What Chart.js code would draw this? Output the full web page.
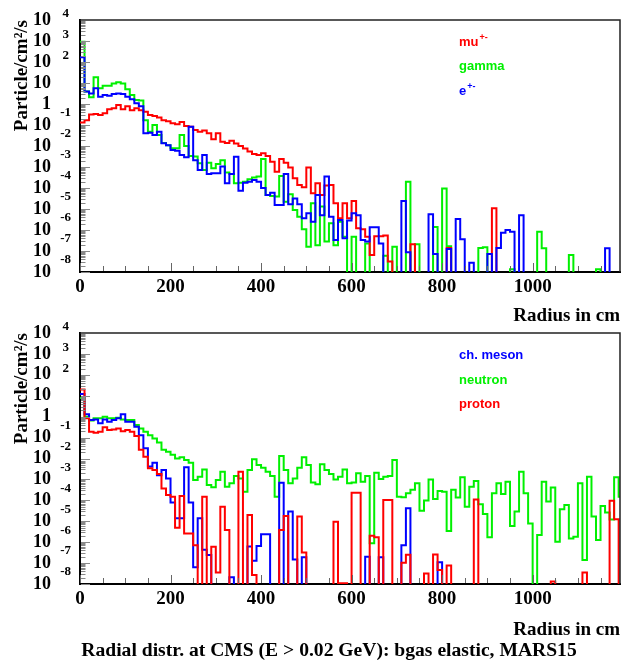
<!DOCTYPE html>
<html>
<head>
<meta charset="utf-8">
<title>Radial distr. at CMS</title>
<script src="https://cdn.jsdelivr.net/npm/chart.js@4.4.1/dist/chart.umd.min.js"></script>
<style>
  html, body { margin:0; padding:0; background:#fff; }
  #wrap { position:relative; width:621px; height:662px; overflow:hidden; background:#fff; }
  #wrap canvas { position:absolute; left:0; }
  #c1 { top:0; }
  #c2 { top:322px; }
  #caption { position:absolute; left:0; width:658px; top:640px; line-height:20px; text-align:center;
    font-family:"Liberation Serif","Times New Roman",serif; font-weight:bold; font-size:19.6px; color:#000; white-space:nowrap; }
</style>
</head>
<body>
<div id="wrap">
  <canvas id="c1" width="621" height="322"></canvas>
  <canvas id="c2" width="621" height="340"></canvas>
  <div id="caption">Radial distr. at CMS (E &gt; 0.02 GeV): bgas elastic, MARS15</div>
</div>
<script>
// ---------- data ----------
const BIN_WIDTH = 10;            // cm per bin
const N_BINS = 120;
const binEdges = Array.from({length: N_BINS + 1}, (_, i) => i * BIN_WIDTH);
const X_MAX = 1193;
const xTickValues = [0, 200, 400, 600, 800, 1000];
const yDecades = [1e-8, 1e-7, 1e-6, 1e-5, 1e-4, 1e-3, 1e-2, 1e-1, 1, 1e1, 1e2, 1e3, 1e4];
const Y_MIN = 1e-8, Y_MAX = 1e4, Y_FLOOR = 1e-9;

// top panel
const muVals = [
  1.3e-1, 1.7e-1, 3.2e-1, 3.3e-1, 3.0e-1, 3.6e-1, 5.6e-1, 6.2e-1, 8.9e-1, 5.6e-1,
  7.9e-1, 5.1e-1, 6.2e-1, 5.1e-1, 4.3e-1, 3.0e-1, 2.7e-1, 2.3e-1, 1.7e-1, 1.5e-1,
  1.2e-1, 1.1e-1, 1.4e-1, 8.9e-2, 8.3e-2, 5.8e-2, 4.8e-2, 5.4e-2, 4.0e-2, 2.1e-2,
  4.0e-2, 1.6e-2, 1.4e-2, 1.8e-2, 1.3e-2, 1.0e-2, 7.6e-3, 5.4e-3, 4.2e-3, 3.7e-3,
  4.5e-3, 3.3e-3, 1.8e-3, 6.0e-4, 2.4e-3, 1.6e-3, 9.5e-4, 2.9e-4, 1.4e-4, 1.1e-4,
  9.5e-4, 5.6e-5, 1.7e-4, 4.7e-5, 1.3e-4, 1.4e-4, 1.9e-5, 3.6e-6, 1.9e-5, 3.6e-6,
  2.4e-5, 1.2e-6, 1.1e-6, 4.8e-7, 6.5e-8, 5.1e-7, 5.1e-7, 5.4e-7, 3.2e-8, 0,
  0, 0, 0, 2.1e-7, 0, 0, 0, 0, 0, 0,
  0, 1.4e-7, 0, 0, 0, 0, 0, 0, 0, 0,
  0, 1.1e-5, 0, 0, 0, 0, 0, 0, 0, 0,
  0, 0, 0, 0, 0, 0, 0, 0, 0, 0,
  0, 0, 0, 0, 0, 0, 0, 0, 0, 0
];
const gammaVals = [
  9.3e2, 3.9, 2.1, 1.9e1, 5.6, 7.4, 7.4, 9.5, 1.1e1, 9.5,
  5.0, 2.7, 1.55, 1.45, 1.7e-1, 4.8e-2, 1.0e-1, 3.3e-2, 1.4e-2, 1.1e-2,
  7.8e-3, 7.8e-3, 3.3e-2, 1.0e-2, 3.3e-3, 3.2e-3, 1.5e-3, 7.2e-4, 1.6e-3, 8.7e-4,
  1.4e-3, 2.1e-3, 5.4e-4, 4.7e-4, 1.7e-4, 1.8e-4, 2.0e-4, 2.6e-4, 3.2e-4, 3.5e-4,
  2.4e-3, 4.7e-5, 4.2e-5, 3.9e-5, 3.7e-4, 2.2e-5, 5.1e-5, 8.9e-6, 4.3e-6, 1.1e-6,
  1.6e-7, 1.9e-5, 1.9e-7, 1.3e-5, 2.8e-7, 2.1e-6, 1.9e-7, 2.5e-6, 4.8e-7, 0,
  4.8e-7, 0, 0, 2.3e-7, 0, 0, 0, 6.0e-8, 0, 1.6e-7,
  0, 0, 2.0e-4, 0, 2.1e-7, 0, 0, 0, 1.4e-6, 0,
  9.5e-5, 1.7e-7, 0, 0, 0, 0, 0, 0, 1.4e-7, 1.5e-7,
  0, 0, 0, 0, 0, 1.35e-8, 0, 0, 0, 0,
  0, 8.3e-7, 1.35e-7, 0, 0, 0, 0, 0, 6.5e-8, 0,
  0, 0, 0, 0, 1.35e-8, 0, 0, 0, 0, 0
];
const eVals = [
  1.7e2, 3.9, 3.2, 5.6, 2.2, 2.7, 2.5, 3.0, 3.2, 3.0,
  2.2, 1.7, 1.1, 7.9e-1, 4.0e-2, 4.3e-2, 3.3e-2, 4.8e-2, 1.35e-2, 1.1e-2,
  6.5e-3, 6.0e-3, 3.7e-3, 2.9e-3, 8.3e-2, 2.1e-3, 7.2e-4, 3.7e-3, 4.7e-4, 5.0e-4,
  5.0e-4, 1.05e-3, 1.7e-4, 4.7e-4, 3.1e-3, 7.4e-5, 1.8e-4, 2.0e-4, 2.4e-4, 2.0e-4,
  1.0e-4, 4.7e-5, 6.0e-5, 1.55e-5, 1.55e-5, 4.7e-4, 1.7e-5, 3.2e-5, 1.7e-5, 3.6e-6,
  6.3e-6, 2.5e-6, 4.7e-5, 5.1e-6, 3.5e-4, 4.3e-6, 3.3e-7, 3.0e-6, 4.0e-7, 2.8e-6,
  6.3e-6, 5.0e-6, 3.3e-7, 2.8e-7, 1.35e-6, 1.35e-6, 2.3e-7, 0, 0, 0,
  0, 2.4e-5, 8.7e-8, 0, 0, 0, 0, 5.6e-6, 7.2e-8, 0,
  0, 1.26e-7, 0, 3.3e-6, 3.6e-7, 0, 2.75e-8, 0, 0, 0,
  7.2e-8, 0, 1.4e-7, 7.4e-7, 1.0e-6, 8.3e-7, 0, 5.0e-6, 0, 0,
  0, 0, 0, 0, 0, 0, 0, 0, 0, 0,
  0, 0, 0, 0, 0, 0, 1.35e-7, 0, 0, 0
];

// bottom panel
const mesonVals = [
  1.2e1, 1.3, 6.9e-1, 7.4e-1, 4.8e-1, 7.4e-1, 5.75e-1, 6.9e-1, 8.3e-1, 1.3,
  5.75e-1, 5.75e-1, 3.3e-1, 1.3e-1, 3.1e-2, 4.1e-3, 6.3e-3, 1.6e-3, 2.8e-3, 1.1e-3,
  7.8e-5, 1.4e-5, 1.4e-5, 3.8e-3, 7.8e-5, 6.3e-8, 1.4e-5, 4.3e-7, 2.45e-7, 0,
  0, 0, 0, 2.1e-8, 0, 0, 0, 6.2e-7, 1.3e-7, 6.6e-7,
  2.4e-6, 2.4e-6, 0, 0, 6.9e-4, 0, 2.9e-5, 1.5e-7, 0, 1.9e-7,
  0, 0, 0, 0, 0, 0, 0, 0, 0, 0,
  0, 0, 0, 2.0e-7, 0, 0, 1.9e-7, 0, 0, 0,
  0, 7.2e-7, 4.2e-5, 0, 0, 0, 0, 0, 0, 1.1e-7,
  0, 0, 0, 0, 0, 0, 0, 0, 0, 0,
  0, 0, 0, 0, 0, 0, 0, 0, 0, 0,
  0, 0, 0, 0, 0, 0, 0, 0, 0, 0,
  0, 0, 0, 0, 0, 0, 0, 0, 0, 0
];
const neutronVals = [
  7.9, 1.0, 6.5e-1, 8.3e-1, 8.3e-1, 1.0, 8.3e-1, 8.3e-1, 8.9e-1, 7.4e-1,
  6.9e-1, 6.9e-1, 4.0e-1, 2.75e-1, 1.9e-1, 1.3e-1, 9.1e-2, 5.8e-2, 2.6e-2, 2.1e-2,
  1.5e-2, 1.0e-2, 1.15e-2, 8.5e-3, 6.3e-3, 9.3e-4, 1.35e-3, 3.0e-3, 5.4e-4, 4.2e-4,
  9.3e-4, 2.3e-3, 4.5e-4, 6.5e-4, 1.45e-3, 1.1e-3, 2.6e-4, 2.8e-3, 9.1e-3, 4.9e-3,
  3.6e-3, 2.3e-3, 1.45e-3, 1.5e-4, 1.3e-2, 2.8e-3, 6.5e-4, 1.1e-3, 3.6e-3, 1.15e-2,
  4.9e-3, 7.1e-4, 5.9e-4, 5.25e-3, 2.8e-3, 1.8e-3, 1.0e-3, 1.35e-3, 3.0e-3, 6.5e-4,
  7.1e-4, 1.95e-3, 7.8e-4, 1.45e-3, 8.9e-7, 2.1e-3, 1.05e-3, 1.35e-3, 1.45e-3, 8.5e-3,
  1.5e-4, 1.4e-4, 2.2e-4, 3.2e-4, 6.5e-4, 3.2e-5, 9.8e-5, 1.0e-3, 1.15e-4, 2.8e-4,
  2.6e-4, 3.4e-6, 3.2e-4, 1.35e-4, 1.26e-3, 5.0e-5, 4.5e-4, 8.5e-4, 6.5e-5, 2.2e-5,
  1.7e-6, 2.2e-4, 6.5e-4, 2.0e-4, 7.8e-4, 5.9e-6, 2.9e-5, 2.3e-3, 2.2e-4, 7.9e-6,
  0, 2.2e-6, 7.8e-4, 8.7e-5, 4.1e-4, 1.05e-6, 3.7e-5, 6.0e-5, 1.5e-6, 1.8e-6,
  6.5e-4, 1.4e-7, 1.35e-3, 1.7e-5, 1.26e-6, 5.4e-5, 2.6e-5, 1.2e-5, 1.26e-3, 1.5e-4
];
const protonVals = [
  2.0e1, 8.3e-1, 1.9e-1, 1.7e-1, 1.9e-1, 3.1e-1, 2.3e-1, 2.45e-1, 2.75e-1, 2.0e-1,
  2.3e-1, 1.9e-1, 1.2e-1, 2.6e-2, 1.2e-2, 3.4e-3, 2.8e-3, 1.8e-3, 3.7e-4, 1.8e-4,
  1.5e-4, 4.9e-6, 1.6e-4, 2.6e-6, 2.6e-6, 7.2e-7, 0, 1.5e-4, 0, 6.0e-7,
  3.5e-8, 5.0e-5, 3.8e-6, 0, 0, 2.3e-3, 0, 2.0e-5, 2.7e-8, 0,
  0, 0, 0, 0, 3.8e-6, 1.8e-5, 0, 0, 1.7e-5, 3.2e-7,
  0, 0, 0, 0, 0, 0, 9.5e-6, 1.1e-8, 1.1e-8, 0,
  2.3e-4, 2.3e-4, 0, 0, 2.0e-6, 1.7e-6, 0, 1.05e-4, 1.05e-4, 0,
  0, 1.05e-7, 2.5e-7, 0, 0, 0, 3.2e-8, 0, 2.6e-7, 4.7e-8,
  0, 7.6e-8, 0, 0, 0, 0, 0, 1.1e-4, 0, 0,
  0, 0, 0, 0, 0, 0, 0, 0, 0, 0,
  0, 0, 0, 0, 1.3e-8, 0, 0, 0, 0, 0,
  0, 3.5e-8, 0, 0, 0, 0, 0, 9.5e-5, 1.26e-5, 0
];

// ---------- styling ----------
const SERIF = '"Liberation Serif", "Times New Roman", serif';
const SANS = '"Liberation Sans", Arial, Helvetica, sans-serif';
const RED = '#ff0000', GREEN = '#00f000', BLUE = '#0000ff';
const LEG_X = 459;

function stepData(vals) {
  const pts = vals.map((v, i) => ({x: binEdges[i], y: v > 0 ? v : Y_FLOOR}));
  pts.push({x: binEdges[vals.length], y: pts[pts.length - 1].y});
  return pts;
}

const decor = {
  id: 'decor',
  afterDraw(chart, args, opts) {
    const {ctx, chartArea: a, scales: {x, y}} = chart;
    ctx.save();
    // frame (top & right)
    ctx.strokeStyle = '#222';
    ctx.lineWidth = 1.5;
    ctx.beginPath();
    ctx.moveTo(a.left, a.top);
    ctx.lineTo(a.right, a.top);
    ctx.lineTo(a.right, a.bottom);
    ctx.stroke();
    // x ticks (inward)
    ctx.strokeStyle = '#666';
    ctx.lineWidth = 1;
    ctx.beginPath();
    for (let v = 0; v <= X_MAX; v += 50) {
      const px = Math.round(x.getPixelForValue(v)) + 0.5;
      const len = (v % 200 === 0) ? 8 : 5;
      ctx.moveTo(px, a.bottom - 1);
      ctx.lineTo(px, a.bottom - 1 - len);
    }
    ctx.stroke();
    // y ticks (log, inward)
    ctx.strokeStyle = '#888';
    ctx.beginPath();
    for (let d = -8; d <= 3; d++) {
      for (let m = 1; m <= 9; m++) {
        const v = m * Math.pow(10, d);
        const py = Math.round(y.getPixelForValue(v)) + 0.5;
        const len = (m === 1) ? 9 : 4.5;
        ctx.moveTo(a.left + 1, py);
        ctx.lineTo(a.left + 1 + len, py);
      }
    }
    ctx.stroke();
    // exponents of tick labels
    ctx.fillStyle = '#000';
    ctx.font = 'bold 13px ' + SERIF;
    ctx.textAlign = 'right';
    ctx.textBaseline = 'middle';
    yDecades.forEach(v => {
      const e = Math.round(Math.log10(v));
      if (e === 0 || e === 1) return;
      const py = y.getPixelForValue(v);
      if (e > 0) ctx.fillText(String(e), 69, py - 6);
      else ctx.fillText(String(e), 71, py - 12);
    });
    // legend texts
    ctx.textAlign = 'left';
    ctx.textBaseline = 'alphabetic';
    (opts.legend || []).forEach(it => {
      ctx.fillStyle = it.color;
      ctx.font = 'bold 13px ' + SANS;
      ctx.fillText(it.text, LEG_X, it.y);
      if (it.sup) {
        const w = ctx.measureText(it.text).width;
        ctx.font = 'bold 9px ' + SANS;
        ctx.fillText(it.sup, LEG_X + w + 1, it.y - 6);
      }
    });
    ctx.restore();
  }
};

function makeChart(id, series, cfg) {
  return new Chart(document.getElementById(id), {
    type: 'line',
    data: {
      datasets: series.map(s => ({
        label: s.label,
        data: stepData(s.values),
        borderColor: s.color,
        backgroundColor: s.color,
        borderWidth: 2,
        pointRadius: 0,
        stepped: true,
        fill: false,
        tension: 0,
        clip: 0
      }))
    },
    options: {
      responsive: false,
      animation: false,
      events: [],
      layout: {padding: {top: cfg.top, right: 1, left: 0, bottom: 0}},
      plugins: {
        legend: {display: false},
        tooltip: {enabled: false},
        decor: {legend: cfg.legend}
      },
      scales: {
        x: {
          type: 'linear', bounds: 'data', min: 0, max: X_MAX, z: 1,
          afterBuildTicks: s => { s.ticks = xTickValues.map(v => ({value: v})); },
          afterFit: s => { s.height = cfg.xAxisHeight; s.paddingLeft = 0; s.paddingRight = 0; },
          ticks: {autoSkip: false, maxRotation: 0, padding: 4, color: '#000',
                  font: {family: SERIF, weight: 'bold', size: 19},
                  callback: v => String(v)},
          grid: {display: false, drawTicks: false},
          border: {display: true, color: '#000', width: 2},
          title: {display: true, text: 'Radius in cm', align: 'end', color: '#000',
                  font: {family: SERIF, weight: 'bold', size: 19, lineHeight: 1},
                  padding: {top: 0, bottom: cfg.xTitlePad}}
        },
        y: {
          type: 'logarithmic', bounds: 'data', min: Y_MIN, max: Y_MAX, z: 1,
          afterBuildTicks: s => { s.ticks = yDecades.map(v => ({value: v})); },
          afterFit: s => { s.width = 80; s.paddingTop = 0; s.paddingBottom = 0; },
          ticks: {autoSkip: false, padding: 29, color: '#000',
                  font: {family: SERIF, weight: 'bold', size: 18},
                  callback: v => (v === 1 ? '1' : '10')},
          grid: {display: false, drawTicks: false},
          border: {display: true, color: '#000', width: 2},
          title: {display: true, text: 'Particle/cm²/s', align: 'end', color: '#000',
                  font: {family: SERIF, weight: 'bold', size: 19, lineHeight: 1},
                  padding: {top: 13, bottom: 0}}
        }
      }
    },
    plugins: [decor]
  });
}

makeChart('c1', [
  {label: 'e+-', values: eVals, color: BLUE},
  {label: 'mu+-', values: muVals, color: RED},
  {label: 'gamma', values: gammaVals, color: GREEN}
], {
  top: 20, xAxisHeight: 50, xTitlePad: -4,
  legend: [
    {text: 'mu', sup: '+-', color: RED, y: 45.5},
    {text: 'gamma', color: GREEN, y: 70},
    {text: 'e', sup: '+-', color: BLUE, y: 95}
  ]
});

makeChart('c2', [
  {label: 'proton', values: protonVals, color: RED},
  {label: 'ch. meson', values: mesonVals, color: BLUE},
  {label: 'neutron', values: neutronVals, color: GREEN}
], {
  top: 11, xAxisHeight: 78, xTitlePad: 22,
  legend: [
    {text: 'ch. meson', color: BLUE, y: 37},
    {text: 'neutron', color: GREEN, y: 61.5},
    {text: 'proton', color: RED, y: 86}
  ]
});
</script>
</body>
</html>
